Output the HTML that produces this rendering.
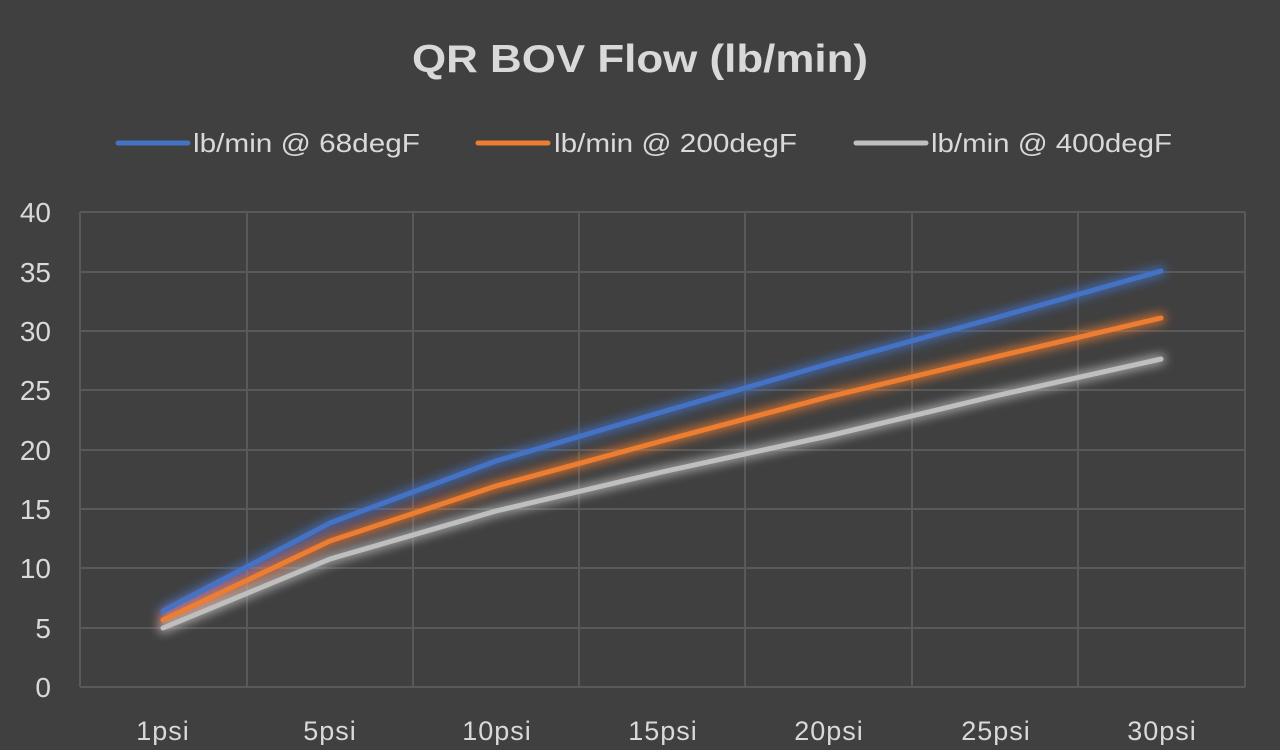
<!DOCTYPE html>
<html><head><style>
body{margin:0;background:#404040;width:1280px;height:745px;overflow:hidden}
</style></head><body>
<svg width="1280" height="745" xmlns="http://www.w3.org/2000/svg" font-family="Liberation Sans, DejaVu Sans, sans-serif">
<defs><filter id="g" x="-10%" y="-20%" width="120%" height="140%"><feGaussianBlur stdDeviation="5"/></filter></defs>
<rect width="1280" height="745" fill="#404040"/>
<text x="412" y="72" font-size="39" font-weight="bold" fill="#d9d9d9" textLength="456" lengthAdjust="spacingAndGlyphs">QR BOV Flow (lb/min)</text>
<g font-size="26" fill="#d9d9d9">
<line x1="118" y1="143" x2="188" y2="143" stroke="#4472c4" stroke-width="5" stroke-linecap="round"/><text x="193" y="152" textLength="227" lengthAdjust="spacingAndGlyphs">lb/min @ 68degF</text>
<line x1="478" y1="143" x2="548" y2="143" stroke="#ed7d31" stroke-width="5" stroke-linecap="round"/><text x="554" y="152" textLength="243" lengthAdjust="spacingAndGlyphs">lb/min @ 200degF</text>
<line x1="856" y1="143" x2="926" y2="143" stroke="#bfbfbf" stroke-width="5" stroke-linecap="round"/><text x="931" y="152" textLength="241" lengthAdjust="spacingAndGlyphs">lb/min @ 400degF</text>
</g>
<g stroke="#595959" stroke-width="2" fill="none">
<path d="M80 212H1245M80 272H1245M80 331H1245M80 390H1245M80 450H1245M80 509H1245M80 568H1245M80 628H1245M80 687H1245"/>
<path d="M80 212V687M247 212V687M413 212V687M579 212V687M745 212V687M912 212V687M1078 212V687M1245 212V687"/>
</g>
<g font-size="28" fill="#d9d9d9" text-anchor="end">
<text x="51" y="222">40</text><text x="51" y="282">35</text><text x="51" y="341">30</text><text x="51" y="400">25</text><text x="51" y="460">20</text><text x="51" y="519">15</text><text x="51" y="578">10</text><text x="51" y="638">5</text><text x="51" y="697">0</text>
</g>
<g font-size="27" fill="#d9d9d9" text-anchor="middle" letter-spacing="1">
<text x="163" y="740">1psi</text><text x="330" y="740">5psi</text><text x="497" y="740">10psi</text><text x="663" y="740">15psi</text><text x="829" y="740">20psi</text><text x="996" y="740">25psi</text><text x="1162" y="740">30psi</text>
</g>
<g fill="none" stroke-width="5" stroke-linejoin="round" stroke-linecap="round">
<g filter="url(#g)" opacity="0.8" stroke-width="10">
<polyline stroke="#4472c4" points="163,611 330,523 496,461 662,412 828,364 995,318 1161,271"/>
<polyline stroke="#ed7d31" points="163,620 330,541 496,486 662,441 828,397 995,357 1161,318"/>
<polyline stroke="#bfbfbf" points="163,628 330,559 496,511 662,472 828,436 995,396 1161,359"/>
</g>
<polyline stroke="#bfbfbf" points="163,628 330,559 496,511 662,472 828,436 995,396 1161,359"/>
<polyline stroke="#ed7d31" points="163,620 330,541 496,486 662,441 828,397 995,357 1161,318"/>
<polyline stroke="#4472c4" points="163,611 330,523 496,461 662,412 828,364 995,318 1161,271"/>
</g>
</svg>
</body></html>
